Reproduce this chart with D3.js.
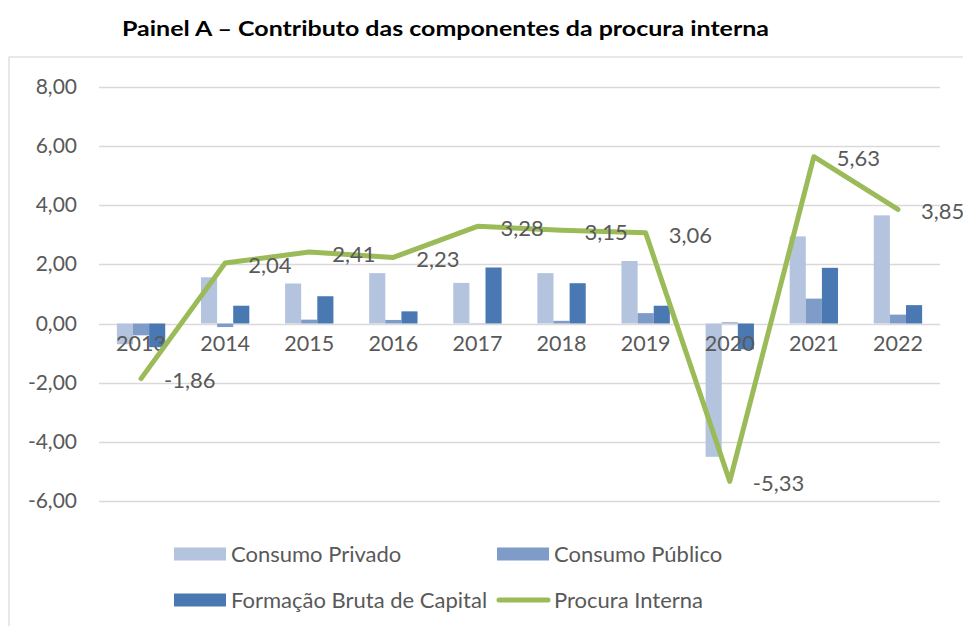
<!DOCTYPE html>
<html>
<head>
<meta charset="utf-8">
<script src="https://cdn.jsdelivr.net/npm/d3@7"></script>
<style>
  html, body { margin: 0; padding: 0; background: #fff; }
  svg { display: block; }
  text { font-family: Lato, "Open Sans", sans-serif; fill: #595959; }
</style>
</head>
<body>
<div id="chart"></div>
<script>
const title = "Painel A – Contributo das componentes da procura interna";
const years = ["2013","2014","2015","2016","2017","2018","2019","2020","2021","2022"];
const consumoPrivado = [-0.70, 1.56, 1.35, 1.70, 1.37, 1.70, 2.11, -4.50, 2.94, 3.65];
const consumoPublico = [-0.40, -0.12, 0.13, 0.12, 0.01, 0.09, 0.35, 0.04, 0.84, 0.30];
const formacaoBruta = [-0.80, 0.60, 0.92, 0.41, 1.89, 1.36, 0.60, -0.87, 1.88, 0.62];
const procuraInterna = [-1.86, 2.04, 2.41, 2.23, 3.28, 3.15, 3.06, -5.33, 5.63, 3.85];
const yTicks = [-6, -4, -2, 0, 2, 4, 6, 8];
const seriesNames = ["Consumo Privado", "Consumo Público", "Formação Bruta de Capital", "Procura Interna"];
const colors = ["#B4C3DE", "#7F9CC9", "#4A78B2", "#9BBB59"];

const W = 963, H = 626;
const FS = "21.5px";
const FSL = "22px";
const svg = d3.select("#chart").append("svg").attr("width", W).attr("height", H);

// chart frame
svg.append("rect").attr("x", 9).attr("y", 57).attr("width", 1000).attr("height", 700)
  .attr("fill", "none").attr("stroke", "#D9D9D9").attr("stroke-width", 1.2);

// title
svg.append("text").attr("x", 445.5).attr("y", 36).attr("text-anchor", "middle")
  .style("font-weight", "bold").style("font-size", "21px").style("fill", "#000")
  .attr("textLength", 647).attr("lengthAdjust", "spacingAndGlyphs")
  .text(title);

const x = d3.scaleBand().domain(years).range([99, 940]).paddingInner(0).paddingOuter(0);
const y = d3.scaleLinear().domain([-8, 8]).range([560.5, 86.5]);
const groupW = x.bandwidth() * 0.575;
const xs = d3.scaleBand().domain([0, 1, 2]).range([0, groupW]);

const fmt = v => d3.format(".2f")(v).replace(".", ",").replace("\u2212", "-");

// gridlines
svg.append("g").selectAll("line").data(yTicks).join("line")
  .attr("x1", 99).attr("x2", 940)
  .attr("y1", d => Math.round(y(d)) + 0.5).attr("y2", d => Math.round(y(d)) + 0.5)
  .attr("stroke", "#D9D9D9").attr("stroke-width", 1.3);

// y axis labels
const yAxis = d3.axisLeft(y).tickValues(yTicks).tickFormat(fmt).tickSize(0).tickPadding(0);
const gy = svg.append("g").attr("transform", "translate(77,0)").call(yAxis);
gy.select(".domain").remove();
gy.selectAll("text").style("font-size", "21px").style("font-family", "Lato, sans-serif").attr("fill", "#595959");

// bars
const seriesVals = [consumoPrivado, consumoPublico, formacaoBruta];
seriesVals.forEach((vals, si) => {
  svg.append("g").selectAll("rect").data(vals).join("rect")
    .attr("x", (d, i) => x(years[i]) + (x.bandwidth() - groupW) / 2 + xs(si))
    .attr("width", xs.bandwidth())
    .attr("y", d => y(Math.max(0, d)))
    .attr("height", d => Math.abs(y(d) - y(0)))
    .attr("fill", colors[si]);
});

// category labels
const xAxis = d3.axisBottom(x).tickSize(0).tickPadding(0);
const gx = svg.append("g").attr("transform", `translate(0,${y(0) + 12})`).call(xAxis);
gx.select(".domain").remove();
gx.selectAll("text").style("font-size", FS).style("font-family", "Lato, sans-serif").attr("fill", "#595959");

// line
const cx = d => x(d) + x.bandwidth() / 2;
const line = d3.line().x((d, i) => cx(years[i])).y(d => y(d));
svg.append("path").datum(procuraInterna).attr("d", line)
  .attr("fill", "none").attr("stroke", colors[3]).attr("stroke-width", 5)
  .attr("stroke-linejoin", "round").attr("stroke-linecap", "round");

// data labels
svg.append("g").selectAll("text").data(procuraInterna).join("text")
  .attr("x", (d, i) => cx(years[i]) + 23)
  .attr("y", d => y(d) + 2)
  .attr("dy", "0.35em")
  .style("font-size", "22px")
  .text(d => fmt(d));

// legend
const legend = [
  {name: seriesNames[0], c: colors[0], x: 174, y: 554, type: "rect"},
  {name: seriesNames[1], c: colors[1], x: 497, y: 554, type: "rect"},
  {name: seriesNames[2], c: colors[2], x: 174, y: 600, type: "rect"},
  {name: seriesNames[3], c: colors[3], x: 497, y: 600, type: "line"}
];
const lg = svg.append("g").selectAll("g").data(legend).join("g");
lg.filter(d => d.type === "rect").append("rect")
  .attr("x", d => d.x).attr("y", d => d.y - 6.5).attr("width", 52).attr("height", 13)
  .attr("fill", d => d.c);
lg.filter(d => d.type === "line").append("line")
  .attr("x1", d => d.x + 2).attr("x2", d => d.x + 51).attr("y1", d => d.y).attr("y2", d => d.y)
  .attr("stroke", d => d.c).attr("stroke-width", 5).attr("stroke-linecap", "round");
lg.append("text").attr("x", d => d.x + 57).attr("y", d => d.y).attr("dy", "0.35em")
  .style("font-size", FSL).text(d => d.name);
</script>
</body>
</html>
